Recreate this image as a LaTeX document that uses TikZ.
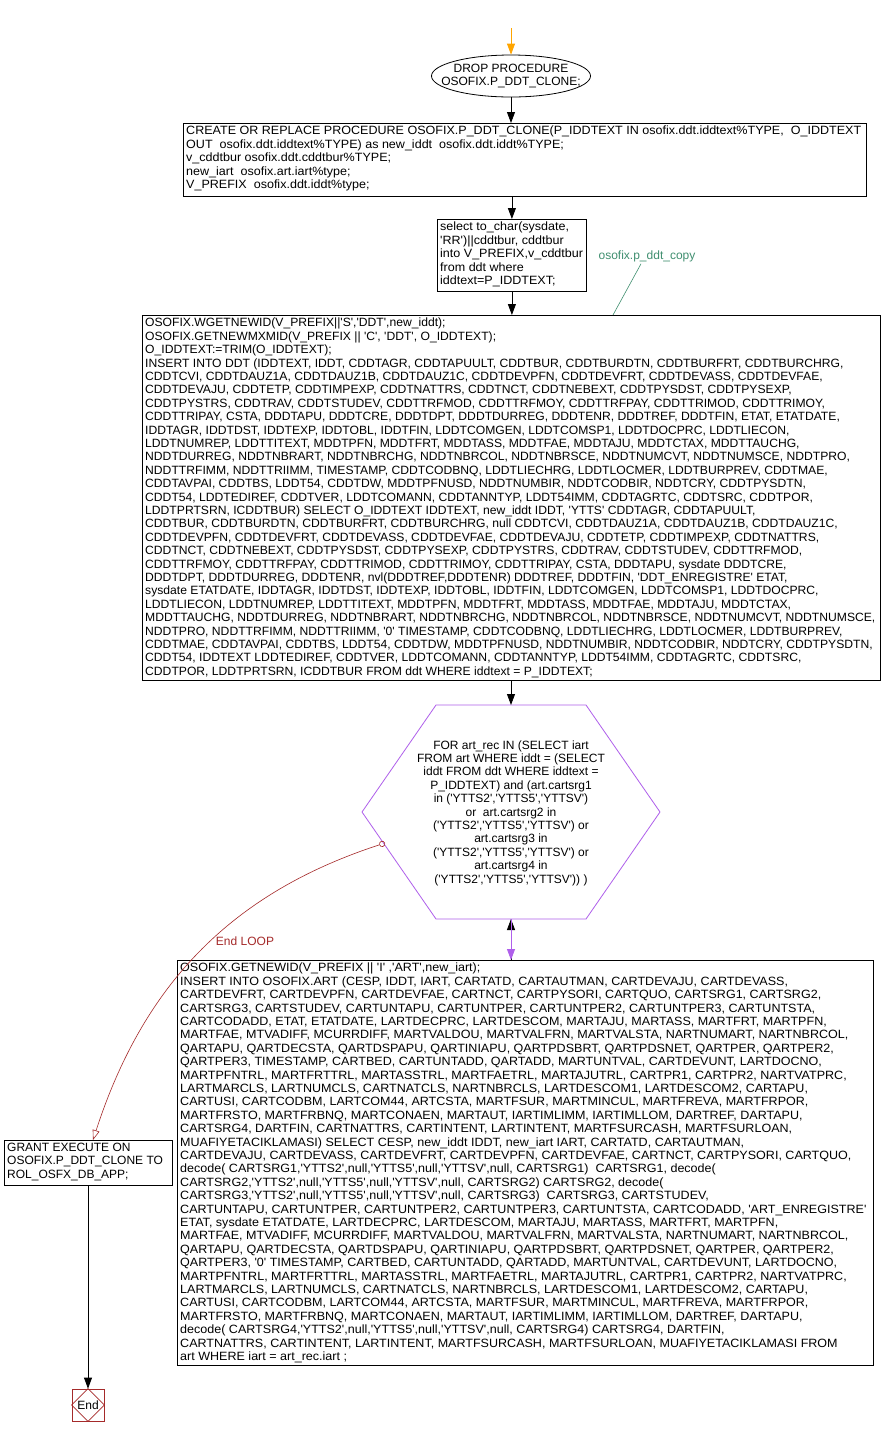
\documentclass[tikz,border=0pt]{standalone}
\usepackage{fontspec}
\setmainfont{Liberation Sans}[Ligatures=TeXOff]
\newfontfamily\codefont{Liberation Sans}[Ligatures=TeXOff, FakeStretch=1.045]
\newfontfamily\codefontb{Liberation Sans}[Ligatures=TeXOff, FakeStretch=1.012]
\usetikzlibrary{arrows.meta,shapes.geometric}
\definecolor{orng}{RGB}{255,165,0}
\definecolor{purp}{RGB}{175,95,235}
\definecolor{dred}{RGB}{165,42,42}
\definecolor{annot}{RGB}{64,143,112}
\tikzset{
  arr/.style={-{Triangle[length=11pt,width=8pt]}},
  frame/.style={draw=black, line width=0.8pt, inner sep=0pt, fill=white},
  txt/.style={inner xsep=3pt, inner ysep=3pt, align=left, font=\codefont\fontsize{12}{13.4}\selectfont},
  ctxt/.style={inner sep=0pt, align=center, font=\fontsize{12}{13.4}\selectfont},
  conn/.style={line width=0.8pt, black},
}
\begin{document}
\begin{tikzpicture}[x=1pt,y=-1pt]
\useasboundingbox[fill=white] (0,0) rectangle (882,1436);

% start
\coordinate (start) at (511,28);
\node[draw=black, line width=0.8pt, ellipse, minimum width=159pt, minimum height=42pt, inner sep=0pt] (ell) at (511,76) {};
\node[ctxt] (ellt) at (ell.center) {DROP PROCEDURE\\OSOFIX.P\_DDT\_CLONE;};

% CREATE box
\node[frame, minimum width=683pt, minimum height=73pt, anchor=north west] (create) at (183,123) {};
\node[txt, anchor=north west] (createt) at (create.north west) {CREATE OR REPLACE PROCEDURE OSOFIX.P\_DDT\_CLONE(P\_IDDTEXT IN osofix.ddt.iddtext\%TYPE,\ \ O\_IDDTEXT\\
OUT\ \ osofix.ddt.iddtext\%TYPE) as new\_iddt\ \ osofix.ddt.iddt\%TYPE;\\
v\_cddtbur osofix.ddt.cddtbur\%TYPE;\\
new\_iart\ \ osofix.art.iart\%type;\\
V\_PREFIX\ \ osofix.ddt.iddt\%type;};

% select box
\node[frame, minimum width=149pt, minimum height=72pt, anchor=north west] (sel) at (437,219) {};
\node[txt, anchor=north west] (selt) at (sel.north west) {select to\_char(sysdate,\\
'RR')||cddtbur, cddtbur\\
into V\_PREFIX,v\_cddtbur\\
from ddt where\\
iddtext=P\_IDDTEXT;};

% annotation
\node[inner sep=0pt, text=annot, font=\fontsize{12}{13.4}\selectfont] (ann) at (647,256) {osofix.p\_ddt\_copy};
\coordinate (annEnd) at (613,315);

% big box
\node[frame, minimum width=738pt, minimum height=365pt, anchor=north west] (big) at (142,315) {};
\node[txt, font=\codefontb\fontsize{12}{13.4}\selectfont, anchor=north west] (bigt) at (big.north west) {OSOFIX.WGETNEWID(V\_PREFIX||'S','DDT',new\_iddt);\\
OSOFIX.GETNEWMXMID(V\_PREFIX || 'C', 'DDT', O\_IDDTEXT);\\
O\_IDDTEXT:=TRIM(O\_IDDTEXT);\\
INSERT INTO DDT (IDDTEXT, IDDT, CDDTAGR, CDDTAPUULT, CDDTBUR, CDDTBURDTN, CDDTBURFRT, CDDTBURCHRG,\\
CDDTCVI, CDDTDAUZ1A, CDDTDAUZ1B, CDDTDAUZ1C, CDDTDEVPFN, CDDTDEVFRT, CDDTDEVASS, CDDTDEVFAE,\\
CDDTDEVAJU, CDDTETP, CDDTIMPEXP, CDDTNATTRS, CDDTNCT, CDDTNEBEXT, CDDTPYSDST, CDDTPYSEXP,\\
CDDTPYSTRS, CDDTRAV, CDDTSTUDEV, CDDTTRFMOD, CDDTTRFMOY, CDDTTRFPAY, CDDTTRIMOD, CDDTTRIMOY,\\
CDDTTRIPAY, CSTA, DDDTAPU, DDDTCRE, DDDTDPT, DDDTDURREG, DDDTENR, DDDTREF, DDDTFIN, ETAT, ETATDATE,\\
IDDTAGR, IDDTDST, IDDTEXP, IDDTOBL, IDDTFIN, LDDTCOMGEN, LDDTCOMSP1, LDDTDOCPRC, LDDTLIECON,\\
LDDTNUMREP, LDDTTITEXT, MDDTPFN, MDDTFRT, MDDTASS, MDDTFAE, MDDTAJU, MDDTCTAX, MDDTTAUCHG,\\
NDDTDURREG, NDDTNBRART, NDDTNBRCHG, NDDTNBRCOL, NDDTNBRSCE, NDDTNUMCVT, NDDTNUMSCE, NDDTPRO,\\
NDDTTRFIMM, NDDTTRIIMM, TIMESTAMP, CDDTCODBNQ, LDDTLIECHRG, LDDTLOCMER, LDDTBURPREV, CDDTMAE,\\
CDDTAVPAI, CDDTBS, LDDT54, CDDTDW, MDDTPFNUSD, NDDTNUMBIR, NDDTCODBIR, NDDTCRY, CDDTPYSDTN,\\
CDDT54, LDDTEDIREF, CDDTVER, LDDTCOMANN, CDDTANNTYP, LDDT54IMM, CDDTAGRTC, CDDTSRC, CDDTPOR,\\
LDDTPRTSRN, ICDDTBUR) SELECT O\_IDDTEXT IDDTEXT, new\_iddt IDDT, 'YTTS' CDDTAGR, CDDTAPUULT,\\
CDDTBUR, CDDTBURDTN, CDDTBURFRT, CDDTBURCHRG, null CDDTCVI, CDDTDAUZ1A, CDDTDAUZ1B, CDDTDAUZ1C,\\
CDDTDEVPFN, CDDTDEVFRT, CDDTDEVASS, CDDTDEVFAE, CDDTDEVAJU, CDDTETP, CDDTIMPEXP, CDDTNATTRS,\\
CDDTNCT, CDDTNEBEXT, CDDTPYSDST, CDDTPYSEXP, CDDTPYSTRS, CDDTRAV, CDDTSTUDEV, CDDTTRFMOD,\\
CDDTTRFMOY, CDDTTRFPAY, CDDTTRIMOD, CDDTTRIMOY, CDDTTRIPAY, CSTA, DDDTAPU, sysdate DDDTCRE,\\
DDDTDPT, DDDTDURREG, DDDTENR, nvl(DDDTREF,DDDTENR) DDDTREF, DDDTFIN, 'DDT\_ENREGISTRE' ETAT,\\
sysdate ETATDATE, IDDTAGR, IDDTDST, IDDTEXP, IDDTOBL, IDDTFIN, LDDTCOMGEN, LDDTCOMSP1, LDDTDOCPRC,\\
LDDTLIECON, LDDTNUMREP, LDDTTITEXT, MDDTPFN, MDDTFRT, MDDTASS, MDDTFAE, MDDTAJU, MDDTCTAX,\\
MDDTTAUCHG, NDDTDURREG, NDDTNBRART, NDDTNBRCHG, NDDTNBRCOL, NDDTNBRSCE, NDDTNUMCVT, NDDTNUMSCE,\\
NDDTPRO, NDDTTRFIMM, NDDTTRIIMM, '0' TIMESTAMP, CDDTCODBNQ, LDDTLIECHRG, LDDTLOCMER, LDDTBURPREV,\\
CDDTMAE, CDDTAVPAI, CDDTBS, LDDT54, CDDTDW, MDDTPFNUSD, NDDTNUMBIR, NDDTCODBIR, NDDTCRY, CDDTPYSDTN,\\
CDDT54, IDDTEXT LDDTEDIREF, CDDTVER, LDDTCOMANN, CDDTANNTYP, LDDT54IMM, CDDTAGRTC, CDDTSRC,\\
CDDTPOR, LDDTPRTSRN, ICDDTBUR FROM ddt WHERE iddtext = P\_IDDTEXT;};

% hexagon
\coordinate (hexT) at (511,705);
\coordinate (hexB) at (511,919);
\coordinate (hexLoop) at (385,843);
\draw[purp, line width=0.8pt] (436,705) -- (586,705) -- (660,812) -- (586,919) -- (436,919) -- (362,812) -- cycle;
\node[ctxt] (hex) at (511,813) {FOR art\_rec IN (SELECT iart\\
FROM art WHERE iddt = (SELECT\\
iddt FROM ddt WHERE iddtext =\\
P\_IDDTEXT) and (art.cartsrg1\\
in ('YTTS2','YTTS5','YTTSV')\\
or\ \ art.cartsrg2 in\\
('YTTS2','YTTS5','YTTSV') or\\
art.cartsrg3 in\\
('YTTS2','YTTS5','YTTSV') or\\
art.cartsrg4 in\\
('YTTS2','YTTS5','YTTSV')) )};

% INSERT ART box
\node[frame, minimum width=696pt, minimum height=405pt, anchor=north west] (ins) at (177,960) {};
\node[txt, anchor=north west] (inst) at (ins.north west) {OSOFIX.GETNEWID(V\_PREFIX || 'I' ,'ART',new\_iart);\\
INSERT INTO OSOFIX.ART (CESP, IDDT, IART, CARTATD, CARTAUTMAN, CARTDEVAJU, CARTDEVASS,\\
CARTDEVFRT, CARTDEVPFN, CARTDEVFAE, CARTNCT, CARTPYSORI, CARTQUO, CARTSRG1, CARTSRG2,\\
CARTSRG3, CARTSTUDEV, CARTUNTAPU, CARTUNTPER, CARTUNTPER2, CARTUNTPER3, CARTUNTSTA,\\
CARTCODADD, ETAT, ETATDATE, LARTDECPRC, LARTDESCOM, MARTAJU, MARTASS, MARTFRT, MARTPFN,\\
MARTFAE, MTVADIFF, MCURRDIFF, MARTVALDOU, MARTVALFRN, MARTVALSTA, NARTNUMART, NARTNBRCOL,\\
QARTAPU, QARTDECSTA, QARTDSPAPU, QARTINIAPU, QARTPDSBRT, QARTPDSNET, QARTPER, QARTPER2,\\
QARTPER3, TIMESTAMP, CARTBED, CARTUNTADD, QARTADD, MARTUNTVAL, CARTDEVUNT, LARTDOCNO,\\
MARTPFNTRL, MARTFRTTRL, MARTASSTRL, MARTFAETRL, MARTAJUTRL, CARTPR1, CARTPR2, NARTVATPRC,\\
LARTMARCLS, LARTNUMCLS, CARTNATCLS, NARTNBRCLS, LARTDESCOM1, LARTDESCOM2, CARTAPU,\\
CARTUSI, CARTCODBM, LARTCOM44, ARTCSTA, MARTFSUR, MARTMINCUL, MARTFREVA, MARTFRPOR,\\
MARTFRSTO, MARTFRBNQ, MARTCONAEN, MARTAUT, IARTIMLIMM, IARTIMLLOM, DARTREF, DARTAPU,\\
CARTSRG4, DARTFIN, CARTNATTRS, CARTINTENT, LARTINTENT, MARTFSURCASH, MARTFSURLOAN,\\
MUAFIYETACIKLAMASI) SELECT CESP, new\_iddt IDDT, new\_iart IART, CARTATD, CARTAUTMAN,\\
CARTDEVAJU, CARTDEVASS, CARTDEVFRT, CARTDEVPFN, CARTDEVFAE, CARTNCT, CARTPYSORI, CARTQUO,\\
decode( CARTSRG1,'YTTS2',null,'YTTS5',null,'YTTSV',null, CARTSRG1)\ \ CARTSRG1, decode(\\
CARTSRG2,'YTTS2',null,'YTTS5',null,'YTTSV',null, CARTSRG2) CARTSRG2, decode(\\
CARTSRG3,'YTTS2',null,'YTTS5',null,'YTTSV',null, CARTSRG3)\ \ CARTSRG3, CARTSTUDEV,\\
CARTUNTAPU, CARTUNTPER, CARTUNTPER2, CARTUNTPER3, CARTUNTSTA, CARTCODADD, 'ART\_ENREGISTRE'\\
ETAT, sysdate ETATDATE, LARTDECPRC, LARTDESCOM, MARTAJU, MARTASS, MARTFRT, MARTPFN,\\
MARTFAE, MTVADIFF, MCURRDIFF, MARTVALDOU, MARTVALFRN, MARTVALSTA, NARTNUMART, NARTNBRCOL,\\
QARTAPU, QARTDECSTA, QARTDSPAPU, QARTINIAPU, QARTPDSBRT, QARTPDSNET, QARTPER, QARTPER2,\\
QARTPER3, '0' TIMESTAMP, CARTBED, CARTUNTADD, QARTADD, MARTUNTVAL, CARTDEVUNT, LARTDOCNO,\\
MARTPFNTRL, MARTFRTTRL, MARTASSTRL, MARTFAETRL, MARTAJUTRL, CARTPR1, CARTPR2, NARTVATPRC,\\
LARTMARCLS, LARTNUMCLS, CARTNATCLS, NARTNBRCLS, LARTDESCOM1, LARTDESCOM2, CARTAPU,\\
CARTUSI, CARTCODBM, LARTCOM44, ARTCSTA, MARTFSUR, MARTMINCUL, MARTFREVA, MARTFRPOR,\\
MARTFRSTO, MARTFRBNQ, MARTCONAEN, MARTAUT, IARTIMLIMM, IARTIMLLOM, DARTREF, DARTAPU,\\
decode( CARTSRG4,'YTTS2',null,'YTTS5',null,'YTTSV',null, CARTSRG4) CARTSRG4, DARTFIN,\\
CARTNATTRS, CARTINTENT, LARTINTENT, MARTFSURCASH, MARTFSURLOAN, MUAFIYETACIKLAMASI FROM\\
art WHERE iart = art\_rec.iart ;};

% GRANT box
\node[frame, minimum width=168pt, minimum height=45pt, anchor=north west] (grant) at (4,1140) {};
\node[txt, font=\fontsize{12}{13.4}\selectfont, anchor=north west] (grantt) at (grant.north west) {GRANT EXECUTE ON\\
OSOFIX.P\_DDT\_CLONE TO\\
ROL\_OSFX\_DB\_APP;};
\coordinate (grantIn) at (93,1140);

% End
\node[draw=dred, line width=0.8pt, minimum width=32pt, minimum height=32pt, inner sep=0pt, fill=white] (endn) at (88,1405) {};
\draw[dred, line width=0.6pt] (endn.north) -- (endn.east) -- (endn.south) -- (endn.west) -- cycle;
\node[inner sep=0pt, font=\fontsize{12}{13.4}\selectfont] (endt) at (endn.center) {End};

% loop label
\node[inner sep=0pt, font=\fontsize{12}{13.4}\selectfont, text=dred] (lbl) at (245,941) {End LOOP};

% connectors
\draw[orng, line width=0.8pt, arr] (start) -- (ell.north);
\draw[conn, arr] (ell.south) -- (ell.south |- create.north);
\draw[conn, arr] (sel.north |- create.south) -- (sel.north);
\draw[conn, arr] (sel.south) -- (sel.south |- big.north);
\draw[annot, line width=0.6pt] ([xshift=-6pt,yshift=-2pt]ann.south) -- (annEnd);
\draw[conn, arr] (hexT |- big.south) -- (hexT);
\draw[conn, arr] (hexB |- ins.north) -- (hexB);
\draw[purp, line width=0.8pt, arr] (hexB) -- (hexB |- ins.north);
\draw[dred, line width=0.6pt, {Circle[open,length=6pt,width=6pt]}-{Triangle[open,length=10pt,width=7pt,fill=white]}] (hexLoop) to[out=198,in=72] (grantIn);
\draw[conn, arr] (grant.south -| endn.north) -- (endn.north);
\end{tikzpicture}
\end{document}
